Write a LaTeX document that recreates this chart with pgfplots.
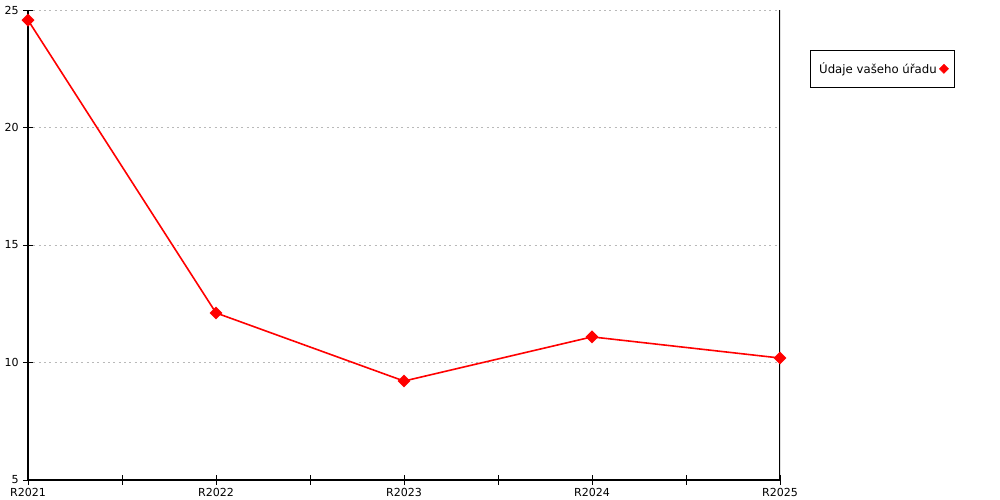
\documentclass[border=0pt]{standalone}
\usepackage{pgfplots}
\pgfplotsset{compat=1.18}
\usepackage{fontspec}
\setmainfont{DejaVu Sans}
\begin{document}
\begin{tikzpicture}
\path[use as bounding box] (-21pt,-15pt) rectangle (729pt,360pt);
\begin{axis}[
  at={(0,0)}, anchor=south west,
  scale only axis, width=564pt, height=352.5pt,
  xmin=0, xmax=4, ymin=5, ymax=25,
  axis x line*=bottom, axis y line*=left,
  axis line style={-, black, line width=0.8pt},
  xtick={0,1,2,3,4},
  xticklabels={R2021,R2022,R2023,R2024,R2025},
  minor xtick={0.5,1.5,2.5,3.5},
  ytick={5,10,15,20,25},
  tick align=center,
  major tick length=7pt, minor tick length=7pt,
  every tick/.style={black, line width=0.7pt},
  ymajorgrids,
  grid style={dash pattern=on 1.5pt off 2.5pt, gray!55, line width=0.6pt},
  tick label style={font=\fontsize{8.3}{9}\selectfont},
  /pgf/number format/assume math mode=true,
  xticklabel style={yshift=1pt},
  legend style={at={(1.04,0.915)}, anchor=north west, draw=black,
    line width=0.7pt, font=\fontsize{8.8}{10}\selectfont,
    inner xsep=4.5pt, inner ysep=7pt},
  legend plot pos=right,
  legend image code/.code={\draw[red, fill=red, line width=0.4pt] plot[mark=square*, mark size=2.4pt, mark options={rotate=45}] coordinates {(0.3cm,0cm)};},
]
\addplot[red, line width=1.2pt, mark=square*, mark size=2.8pt, mark options={fill=red, rotate=45}]
  coordinates {(0,24.57) (1,12.11) (2,9.21) (3,11.09) (4,10.19)};
\addlegendentry{Údaje vašeho úřadu}
\draw[black, line width=0.8pt] (rel axis cs:1,0) -- (rel axis cs:1,1);
\end{axis}
\end{tikzpicture}
\end{document}
